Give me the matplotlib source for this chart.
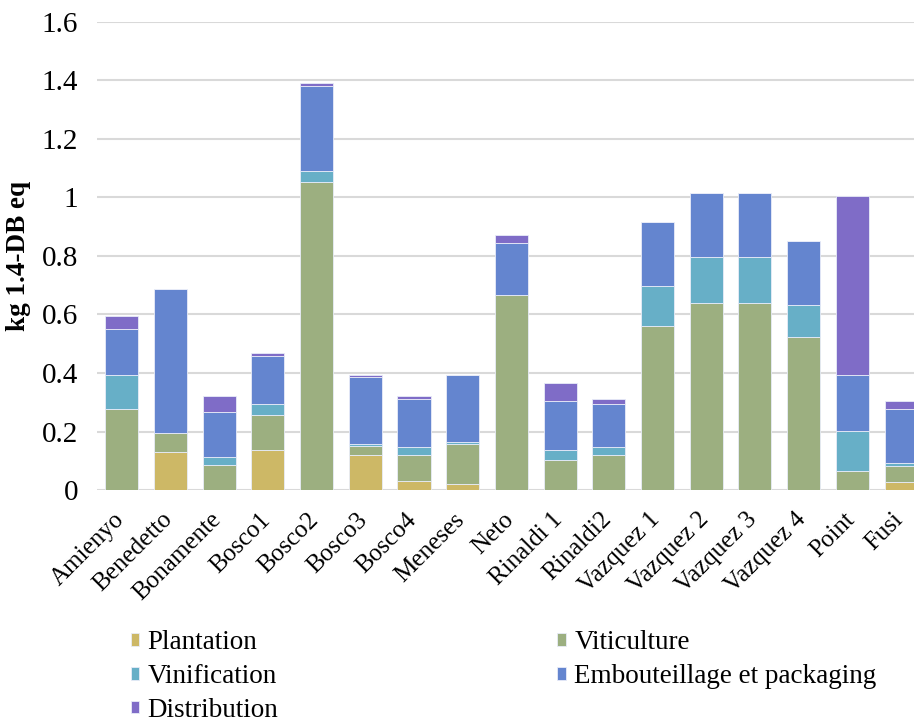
import numpy as np
import matplotlib.pyplot as plt
from matplotlib.transforms import ScaledTranslation

# categories (x axis)
sites = ["Amienyo", "Benedetto", "Bonamente", "Bosco1", "Bosco2", "Bosco3", "Bosco4",
         "Meneses", "Neto", "Rinaldi 1", "Rinaldi2", "Vazquez 1", "Vazquez 2",
         "Vazquez 3", "Vazquez 4", "Point", "Fusi"]

# stage contributions (kg 1.4-DB eq)
plantation = [0.0, 0.129, 0.0, 0.138, 0.0, 0.120, 0.030, 0.021, 0.0, 0.0, 0.0,
              0.0, 0.0, 0.0, 0.0, 0.0, 0.029]
viticulture = [0.278, 0.065, 0.085, 0.120, 1.052, 0.030, 0.090, 0.137, 0.668, 0.102, 0.120,
               0.559, 0.640, 0.640, 0.522, 0.064, 0.055]
vinification = [0.117, 0.0, 0.027, 0.037, 0.037, 0.009, 0.029, 0.008, 0.0, 0.036, 0.029,
                0.137, 0.156, 0.156, 0.110, 0.139, 0.009]
embouteillage = [0.156, 0.493, 0.154, 0.164, 0.291, 0.227, 0.164, 0.228, 0.175, 0.166, 0.144,
                 0.220, 0.219, 0.219, 0.219, 0.192, 0.183]
distribution = [0.045, 0.0, 0.055, 0.009, 0.010, 0.008, 0.008, 0.0, 0.027, 0.062, 0.019,
                0.0, 0.0, 0.0, 0.0, 0.611, 0.028]

series = [
    ("Plantation", plantation, "#CDB866"),
    ("Viticulture", viticulture, "#9CAF80"),
    ("Vinification", vinification, "#67AFC7"),
    ("Embouteillage et packaging", embouteillage, "#6485CF"),
    ("Distribution", distribution, "#7F6CC7"),
]

plt.rcParams['font.family'] = ['Liberation Serif', 'DejaVu Serif']

fig = plt.figure(figsize=(9.14, 7.24), dpi=100)
# the right edge of the plot area runs past the picture, as in the source
ax = fig.add_axes([0.1065, 0.323, 0.906, 0.647])

x = np.arange(len(sites))
bottom = np.zeros(len(sites))
handles = {}
for name, vals, color in series:
    vals = np.array(vals)
    b = ax.bar(x, vals, 0.68, bottom=bottom, color=color, edgecolor="#E8ECF8",
               linewidth=0.6, label=name, zorder=3)
    handles[name] = b
    bottom += vals

ax.set_xlim(-0.5, len(sites) - 0.5)
ax.set_ylim(0, 1.6)
ax.set_yticks(np.arange(0, 1.61, 0.2))
ax.set_yticklabels(["0", "0.2", "0.4", "0.6", "0.8", "1", "1.2", "1.4", "1.6"])
ax.yaxis.grid(True, color="#D9D9D9", linewidth=1.5, zorder=0)
ax.set_axisbelow(True)
for s in ax.spines.values():
    s.set_visible(False)
ax.tick_params(axis="both", length=0)
ax.tick_params(axis="y", pad=14, labelsize=21)
ax.set_xticks(x)
ax.set_xticklabels(sites, rotation=45, ha="right", rotation_mode="anchor", fontsize=18)
ax.tick_params(axis="x", pad=6)
shift = ScaledTranslation(-9 / 100, -10 / 100, fig.dpi_scale_trans)
for lbl in ax.get_xticklabels():
    lbl.set_transform(lbl.get_transform() + shift)
ax.set_ylabel("kg 1.4-DB eq", fontsize=19.5, fontweight="bold")
ax.yaxis.set_label_coords(-0.08, 0.5)

order = ["Plantation", "Vinification", "Distribution", "Viticulture",
         "Embouteillage et packaging"]
fig.legend([handles[n] for n in order], order, ncol=2, loc="upper left",
           bbox_to_anchor=(0.128, 0.148), frameon=False, fontsize=19.5,
           handlelength=0.33, handleheight=0.33, handletextpad=0.3,
           columnspacing=10.3, labelspacing=0.32, borderpad=0)

fig.savefig("out.png", dpi=100)
